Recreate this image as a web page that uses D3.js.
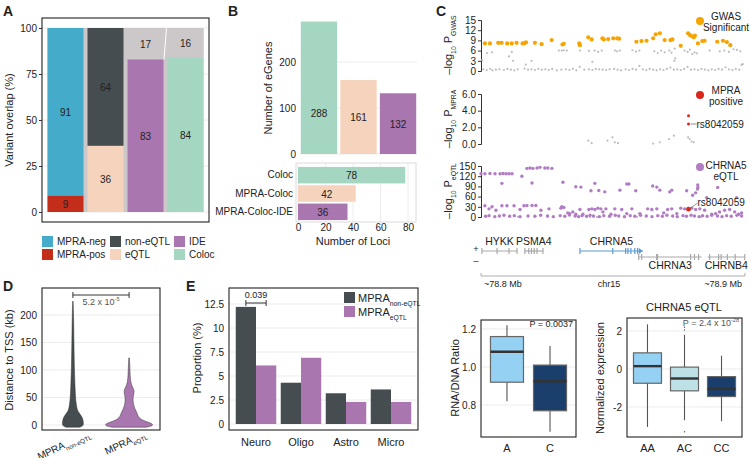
<!DOCTYPE html>
<html><head><meta charset="utf-8">
<script src="https://cdn.jsdelivr.net/npm/d3@7"></script>
<style>
body{margin:0;background:#fff}
text{font-family:"Liberation Sans",Arial,Helvetica,sans-serif;fill:#222}
</style></head>
<body><svg id="c" width="750" height="458"></svg>
<script>
// ---------------- DATA ----------------
// Panel A
const aCats = ["MPRA", "eQTL", "IDE", "Coloc"];
const aLower = [9, 36, 83, 84];
const aUpper = [91, 64, 17, 16];
const aLowerKey = ["MPRA-pos", "eQTL", "IDE", "Coloc"];
const aUpperKey = ["MPRA-neg", "non-eQTL", "other", "other"];
const aTicks = [0, 25, 50, 75, 100];
const aLegend = [["MPRA-neg", "MPRA-pos"], ["non-eQTL", "eQTL"], ["IDE", "Coloc"]];
// Panel B
const bCats = ["Coloc", "MPRA-Coloc", "MPRA-Coloc-IDE"];
const bGenes = [288, 161, 132];
const bLoci = [78, 42, 36];
const bGeneTicks = [0, 100, 200];
const bLociTicks = [0, 20, 40, 60, 80];
// Panel C  (positions: kb offset from chr15:78,790 kb)
const gwasSig = [[5.7,8.1],[7.9,8.1],[11.5,8.3],[13.0,8.3],[15.4,8.1],[17.4,8.1],[19.5,8.3],[22.1,8.1],[22.8,8.1],[23.6,8.4],[27.5,8.3],[30.4,7.9],[34.8,9.1],[39.5,7.8],[40.1,8.0],[46.8,8.1],[47.1,7.6],[50.7,9.9],[52.2,9.3],[56.9,9.6],[57.5,9.3],[59.4,9.4],[61.6,9.6],[63.3,9.6],[64.2,9.5],[71.7,8.6],[73.9,8.8],[76.1,8.9],[79.0,9.6],[80.1,10.8],[81.9,11.1],[84.0,9.1],[86.5,9.1],[87.4,9.3],[91.0,7.4],[94.2,11.1],[94.9,10.6],[95.7,10.3],[96.7,9.9],[97.2,10.4],[98.5,8.1],[100.4,8.8],[101.4,8.9],[106.9,8.6],[109.4,8.9],[111.1,8.5],[112.6,7.6]];
const gwasLow = [[5,0.5],[6.5,0.3],[8,0.6],[9,0.2],[10.5,0.4],[12,0.5],[14,0.3],[15.5,0.6],[17,0.4],[18.5,0.2],[20,0.5],[23,0.7],[24.5,0.4],[26,0.5],[27.5,0.3],[29,0.6],[30.5,0.4],[32,0.5],[33.5,0.3],[35,0.6],[37,0.2],[39,0.4],[41,0.5],[42.5,0.3],[44,0.6],[45.5,0.2],[47,1.2],[49,0.4],[51,0.5],[52.5,0.3],[54,0.6],[55.5,0.5],[57,0.4],[58.5,0.3],[60,0.5],[62,0.6],[63.5,0.4],[65,0.2],[67,0.5],[68.5,0.3],[70,0.6],[71.5,0.4],[73,1.5],[74.5,0.5],[76,0.3],[77.5,0.6],[79,0.4],[80.5,0.2],[82,0.5],[83.5,0.3],[85,0.6],[86.5,1.0],[88,0.4],[89.5,0.5],[91,0.3],[92.5,0.6],[94,1.2],[95.5,0.4],[97,0.5],[98.5,0.3],[100,0.6],[101.5,0.4],[103,0.2],[104.5,0.5],[106,0.3],[107.5,0.6],[109,0.4],[110.5,1.1],[112,0.5],[113.5,0.3],[115,0.6],[116.5,0.4],[118,2.0],
 [4.5,3.2],[6.6,5.3],[8.8,5.5],[16.2,4.3],[17.4,5.6],[18.0,3.0],[23.5,1.9],[26,3.0],[37.9,6.0],[39.2,6.0],[40.1,6.1],[41.4,6.0],[47.1,6.0],[51,5.9],[52.5,2.7],[53.5,6.0],[55,5.6],[56.6,6.0],[62.3,6.0],[63.3,5.8],[64.5,6.0],[70,6.1],[71.5,5.7],[73,6.0],[79.5,5.8],[81,5.3],[82.5,6.0],[84,5.5],[86,6.0],[87,5.4],[88.4,6.6],[88.6,3.7],[88.2,3.0],[92.7,6.0],[94,5.6],[95,6.3],[96,5.0],[97,5.5],[98,5.2],[103.6,6.0],[108,5.8],[110,6.0],[112,5.6],[114,6.4],[115.5,6.2],[117,5.8],[117.5,1.8]];
const mpraGrey = [[50.7,0.4],[52.2,0.1],[59.1,0.4],[61.3,0.8],[62.3,0.2],[63.7,0.1],[79.0,0.05],[81.9,0.2],[85.9,0.6],[88.0,1.0],[94.2,0.8],[94.9,0.6],[95.7,0.3],[96.7,0.2]];
const mpraPos = [[94.4,3.4],[94.4,2.4]];
const snpPos = 94.4, snpMpra = 2.4, snpEqtl = 23;
const eqtlPts = [[4.0,127],[5.7,127],[7.9,128],[10.1,127],[12.3,127],[13.6,128],[14.9,127],[16.2,127],[17.5,127],[13.1,99],[21.8,120],[24.0,143],[25.3,144],[26.6,143],[28.4,144],[29.7,146],[31.8,144],[33.1,144],[34.9,143],[26.2,100],[39.7,102],[45.3,89],[47.5,88],[51.9,77],[53.6,99],[55.3,78],[57.9,74],[64.5,79],[67.5,97],[68.4,97],[71.4,77],[78.8,91],[80.6,88],[81.9,79],[86.2,74],[87.1,79],[93.6,77],[96.2,64],[97.5,71],[98.4,94],[98.5,87],[98.3,82],[102.3,57],[107.1,87],[115.4,57],
 [5.7,33],[7.5,24],[8.8,30],[10.5,20],[13.1,33],[15.3,33],[18.4,33],[21.0,22],[22.7,33],[24.0,34],[26.2,34],[27.9,34],[30.1,20],[33.6,24],[38.8,26],[39.2,30],[40.1,28],[41.8,12],[42.7,10],[44.0,15],[45.3,8],[47.1,22],[48.4,8],[51.0,22],[52.3,24],[53.6,22],[54.9,26],[56.2,24],[57.1,15],[58.4,24],[60.6,8],[62.3,24],[65.3,22],[67.5,10],[69.7,24],[73.2,10],[76.6,24],[78.4,22],[80.6,24],[83.6,12],[85.3,22],[87.1,24],[89.3,10],[91.0,26],[92.7,24],[95.8,26],[97.5,22],[99.3,24],[101.4,20],[104.5,8],[106.2,10],[107.9,15],[110.1,20],[112.3,22],[114.5,15],[116.2,8],[117.5,12],
 [6,2],[7.5,4],[10,1],[12,3],[14,5],[16.5,2],[18.5,4],[21,1],[24.5,3],[27.5,2],[30,5],[33,3],[35.5,1],[38.5,4],[40.5,2],[42.5,6],[45,3],[46.5,1],[48,4],[50,2],[51.5,5],[53,3],[55.5,1],[57.5,4],[60,2],[62.5,5],[64,3],[66.5,1],[69,4],[71,2],[73.5,5],[76,3],[78.5,1],[81,4],[83,2],[85,5],[87.5,3],[89.5,1],[92,4],[93.5,2],[95.5,5],[97,3],[99,1],[100.5,4],[102.5,2],[104.5,5],[107,3],[109,1],[111,4],[113,2],[115.5,5],[117.5,3]];
const eqtlGrey = [[50,0.5],[51.5,0.3],[53,0.5],[54.5,0.3],[56,0.5],[20,0.4],[33,0.5],[72,0.4],[100,0.5]];
const gwasTicks = [0,3,6,9,12,15], mpraTicks = [0,2,4,6], eqtlTicks = [0,30,60,90,120,150];
const genes = [
 {name:"HYKK", s:4.4, e:19.7, row:0, ex:[4.4,11.0,16.2,19.7], hl:false},
 {name:"PSMA4", s:23.1, e:31.0, row:0, ex:[23.1,24.8,26.0,27.2,28.4,31.0], hl:false},
 {name:"CHRNA5", s:47.1, e:74.5, row:0, ex:[47.1,61.4,67.0,68.0,69.3,71.0,72.2], hl:true},
 {name:"CHRNA3", s:72.7, e:100.1, row:1, ex:[72.7,74.0,80.5,80.9,95.3,97.0,98.8], hl:false},
 {name:"CHRNB4", s:102.7, e:119.0, row:1, ex:[103.6,107.5,108.6,111.3,114.7,118.9], hl:false}];
const ratioBox = [{g:"A", min:0.82, q1:0.92, med:1.08, q3:1.16, max:1.22, out:[]},
                  {g:"C", min:0.66, q1:0.77, med:0.925, q3:1.01, max:1.11, out:[]}];
const exprBox = [{g:"AA", min:-3.05, q1:-0.75, med:0.15, q3:0.85, max:2.35, out:[]},
                 {g:"AC", min:-2.7, q1:-1.15, med:-0.5, q3:0.1, max:1.8, out:[2.05,2.2,-3.3]},
                 {g:"CC", min:-2.75, q1:-1.45, med:-1.05, q3:-0.4, max:0.7, out:[]}];
const ratioTicks = [0.8, 1.0, 1.2], exprTicks = [-2, 0, 2];
// Panel D  (violin: [distance kb, relative density width])
const dCats = ["non-eQTL", "eQTL"];
const violinNon = [[-4,7],[-2,9.5],[0,10.5],[5,10.5],[10,10],[15,9],[20,7],[25,5],[30,4],[40,3.2],[50,2.6],[75,2],[100,1.5],[150,1],[200,0.7],[225,0.2]];
const violinEq = [[-4,17],[-2,23],[1,24],[4,21],[7,16],[10,12],[15,9],[22,8],[30,5.5],[40,4],[50,3.8],[58,5],[64,5],[70,3],[78,1.6],[90,1],[105,0.8],[122,0.3]];
const dTicks = [0, 50, 100, 150, 200];
// Panel E
const eCats = ["Neuro", "Oligo", "Astro", "Micro"];
const eNon = [12.2, 4.3, 3.2, 3.6];
const eEq = [6.1, 6.9, 2.3, 2.3];
const eTicks = [0, 2.5, 5, 7.5, 10, 12.5];
const eTickLabels = ["0", "2.5", "5", "7.5", "10", "12.5"];

// ---------------- STYLE ----------------
const COL = {"MPRA-neg":"#45abca","MPRA-pos":"#c42d1a","non-eQTL":"#454d50","eQTL":"#f6d3bd",
  "IDE":"#a976b0","Coloc":"#a5d6c1","other":"#ccc8ca"};
const ORANGE = "#f6a400", PURPLE = "#b27cc4", RED = "#d8281c", GREY = "#bdbdbd", GRID = "#ececec";
const svg = d3.select("#c");

function rich(g, x, y, parts, size, anchor, extra) {
  const t = g.append("text").attr("x", x).attr("y", y).attr("font-size", size)
    .attr("text-anchor", anchor || "start");
  let shift = 0;
  parts.forEach(([s, mode]) => {
    const ts = t.append("tspan").text(s);
    let target = 0, fs = size;
    if (mode === "sub") { target = size * 0.32; fs = size * 0.62; }
    if (mode === "sup") { target = -size * 0.4; fs = size * 0.62; }
    ts.attr("dy", target - shift).attr("font-size", fs);
    shift = target;
  });
  if (extra) extra(t);
  return t;
}
function label(g, x, y, s, size, anchor, fill) {
  return g.append("text").attr("x", x).attr("y", y).attr("font-size", size)
    .attr("text-anchor", anchor || "start").attr("fill", fill || "#222").text(s);
}
function styleAxis(a, size) {
  a.selectAll("text").attr("font-size", size || 10).attr("fill", "#333");
  a.selectAll("line").attr("stroke", "#333");
  a.selectAll("path").attr("stroke", "#333");
}
function frame(g, x0, y0, x1, y1) {
  g.append("rect").attr("x", x0).attr("y", y0).attr("width", x1 - x0).attr("height", y1 - y0)
    .attr("fill", "none").attr("stroke", "#222").attr("stroke-width", 1.1);
}
function panelLabel(x, y, s) {
  svg.append("text").attr("x", x).attr("y", y).attr("font-size", 14).attr("font-weight", "bold").text(s);
}

// ---------------- PANEL A ----------------
{
  const g = svg.append("g");
  const x = d3.scaleBand().domain(aCats).range([42, 209]).paddingInner(0.1).paddingOuter(0.1375);
  const y = d3.scaleLinear().domain([0, 100]).range([212, 28]);
  aTicks.forEach(t => g.append("line").attr("x1", 42).attr("x2", 209).attr("y1", y(t)).attr("y2", y(t)).attr("stroke", GRID));
  g.append("rect").attr("x", x(aCats[0])).attr("y", y(100)).attr("width", x(aCats[3]) + x.bandwidth() - x(aCats[0]))
    .attr("height", y(0) - y(100)).attr("fill", COL.other);
  aCats.forEach((c, i) => {
    g.append("rect").attr("x", x(c)).attr("width", x.bandwidth()).attr("y", y(aLower[i])).attr("height", y(0) - y(aLower[i])).attr("fill", COL[aLowerKey[i]]);
    g.append("rect").attr("x", x(c)).attr("width", x.bandwidth()).attr("y", y(100)).attr("height", y(aLower[i]) - y(100)).attr("fill", COL[aUpperKey[i]]);
    label(g, x(c) + x.bandwidth() / 2, y(aLower[i] / 2) + 4, aLower[i], 10, "middle", "#111");
    label(g, x(c) + x.bandwidth() / 2, y(aLower[i] + aUpper[i] / 2) + 4, aUpper[i], 10, "middle");
  });
  const gx = x(aCats[2]) + x.bandwidth();
  g.append("line").attr("x1", gx + 3).attr("y1", y(100)).attr("x2", gx + 0.5).attr("y2", y(aLower[2]))
    .attr("stroke", "#fff").attr("stroke-width", 1);
  frame(g, 42, 18, 209, 222);
  const ax = g.append("g").attr("transform", "translate(42,0)").call(d3.axisLeft(y).tickValues(aTicks).tickSize(3).tickPadding(2));
  ax.select(".domain").remove(); styleAxis(ax, 10);
  label(g, 0, 0, "Variant overlap (%)", 11, "middle").attr("transform", "translate(13,120) rotate(-90)");
  const lx = [42, 110, 174];
  aLegend.forEach((col, ci) => col.forEach((k, ri) => {
    g.append("rect").attr("x", lx[ci]).attr("y", 236 + ri * 13).attr("width", 11).attr("height", 11).attr("fill", COL[k]);
    label(g, lx[ci] + 15, 245 + ri * 13, k, 10, "start");
  }));
}
panelLabel(3, 16, "A");

// ---------------- PANEL B ----------------
{
  const g = svg.append("g");
  const x = d3.scaleBand().domain(bCats).range([300, 417]).paddingInner(0.08).paddingOuter(0.02);
  const y = d3.scaleLinear().domain([0, 300]).range([154, 16]);
  bGeneTicks.forEach(t => g.append("line").attr("x1", 300).attr("x2", 417).attr("y1", y(t)).attr("y2", y(t)).attr("stroke", GRID));
  bCats.forEach((c, i) => {
    g.append("rect").attr("x", x(c)).attr("width", x.bandwidth()).attr("y", y(bGenes[i])).attr("height", y(0) - y(bGenes[i])).attr("fill", [COL.Coloc, COL.eQTL, COL.IDE][i]);
    label(g, x(c) + x.bandwidth() / 2, y(Math.min(bGenes[i] / 2, 90)) + 4, bGenes[i], 10, "middle");
  });
  const ay = g.append("g").attr("transform", "translate(300,0)").call(d3.axisLeft(y).tickValues(bGeneTicks).tickSize(0).tickPadding(4));
  ay.select(".domain").remove(); styleAxis(ay, 10);
  label(g, 0, 0, "Number of eGenes", 11, "middle").attr("transform", "translate(272,88) rotate(-90)");
  const yb = d3.scaleBand().domain(bCats).range([166, 221]).paddingInner(0.1).paddingOuter(0.05);
  const xb = d3.scaleLinear().domain([0, 80]).range([298, 408]);
  bLociTicks.forEach(t => g.append("line").attr("x1", xb(t)).attr("x2", xb(t)).attr("y1", 163).attr("y2", 222).attr("stroke", GRID));
  g.append("rect").attr("x", 296).attr("y", 163).attr("width", 120).attr("height", 59).attr("fill", "none").attr("stroke", "#dcdcdc");
  bCats.forEach((c, i) => {
    g.append("rect").attr("x", xb(0)).attr("y", yb(c)).attr("height", yb.bandwidth()).attr("width", xb(bLoci[i]) - xb(0)).attr("fill", [COL.Coloc, COL.eQTL, COL.IDE][i]);
    label(g, (xb(0) + xb(bLoci[i])) / 2, yb(c) + yb.bandwidth() / 2 + 4, bLoci[i], 10, "middle");
  });
  const ayb = g.append("g").attr("transform", "translate(296,0)").call(d3.axisLeft(yb).tickSize(0).tickPadding(3));
  ayb.select(".domain").remove(); styleAxis(ayb, 10);
  const axb = g.append("g").attr("transform", "translate(0,222)").call(d3.axisBottom(xb).tickValues(bLociTicks).tickSize(0).tickPadding(2));
  axb.select(".domain").remove(); styleAxis(axb, 10);
  label(g, 353, 245, "Number of Loci", 11, "middle");
}
panelLabel(228, 16, "B");

// ---------------- PANEL C ----------------
{
  const g = svg.append("g");
  const x = d3.scaleLinear().domain([4, 119]).range([481, 745]);
  const yG = d3.scaleLinear().domain([0, 15]).range([71, 20]);
  const yM = d3.scaleLinear().domain([0, 6]).range([144, 94]);
  const yE = d3.scaleLinear().domain([0, 150]).range([217, 166]);
  function trackAxis(y, ticks, lab, cy) {
    const a = g.append("g").attr("transform", "translate(481,0)").call(d3.axisLeft(y).tickValues(ticks).tickSize(3).tickPadding(2));
    styleAxis(a, 10);
    rich(g, 0, 0, [["\u2013log", ""], ["10", "sub"], [" P", ""], [lab, "sub"]], 11, "middle",
      t => t.attr("transform", `translate(452,${cy}) rotate(-90)`));
  }
  trackAxis(yG, gwasTicks, "GWAS", 45);
  trackAxis(yM, mpraTicks, "MPRA", 119);
  trackAxis(yE, eqtlTicks, "eQTL", 191);
  g.selectAll(".gl").data(gwasLow).join("circle").attr("cx", d => x(d[0])).attr("cy", d => yG(d[1])).attr("r", 1.1).attr("fill", GREY);
  g.selectAll(".gs").data(gwasSig).join("circle").attr("cx", d => x(d[0])).attr("cy", d => yG(d[1])).attr("r", 2.1).attr("fill", ORANGE);
  g.selectAll(".mg").data(mpraGrey).join("circle").attr("cx", d => x(d[0])).attr("cy", d => yM(d[1])).attr("r", 1.1).attr("fill", GREY);
  g.selectAll(".mp").data(mpraPos).join("circle").attr("cx", d => x(d[0])).attr("cy", d => yM(d[1])).attr("r", 1.5).attr("fill", RED);
  g.selectAll(".eg").data(eqtlGrey).join("circle").attr("cx", d => x(d[0])).attr("cy", d => yE(d[1])).attr("r", 1.1).attr("fill", GREY);
  g.selectAll(".ep").data(eqtlPts).join("circle").attr("cx", d => x(d[0])).attr("cy", d => yE(d[1])).attr("r", 1.7).attr("fill", PURPLE);
  g.append("circle").attr("cx", x(snpPos)).attr("cy", yE(snpEqtl)).attr("r", 2.4).attr("fill", RED);
  g.append("line").attr("x1", x(snpPos) + 2).attr("x2", x(snpPos) + 8).attr("y1", yM(snpMpra)).attr("y2", yM(snpMpra)).attr("stroke", "#777").attr("stroke-width", 0.8);
  label(g, x(snpPos) + 8, yM(snpMpra) + 3.5, "rs8042059", 10, "start", "#666");
  g.append("line").attr("x1", x(snpPos) + 2).attr("x2", x(snpPos) + 9).attr("y1", yE(snpEqtl) - 1).attr("y2", yE(snpEqtl) - 6).attr("stroke", "#777").attr("stroke-width", 0.8);
  label(g, x(snpPos) + 9, yE(snpEqtl) - 3, "rs8042059", 10, "start", "#666");
  [[21, ORANGE, ["GWAS", "Significant"], 20], [95, RED, ["MPRA", "positive"], 94], [167, PURPLE, ["CHRNA5", "eQTL"], 169]].forEach(([cy, c, txts, by]) => {
    g.append("circle").attr("cx", 700).attr("cy", cy).attr("r", 4).attr("fill", c);
    txts.forEach((t, i) => label(g, 726, by + i * 11, t, 10, "middle"));
  });
  // gene track
  const rowY = [251, 257];
  label(g, 476, 252, "+", 9, "middle", "#999");
  label(g, 476, 264, "\u2013", 9, "middle", "#999");
  genes.forEach(gn => {
    const c = gn.hl ? "#5b9bd5" : "#a9a9a9";
    const yy = rowY[gn.row];
    g.append("line").attr("x1", x(gn.s)).attr("x2", x(gn.e)).attr("y1", yy).attr("y2", yy).attr("stroke", c).attr("stroke-width", 1.2);
    gn.ex.forEach(e => g.append("line").attr("x1", x(e)).attr("x2", x(e)).attr("y1", yy - 3).attr("y2", yy + 3).attr("stroke", c).attr("stroke-width", 1.2));
    if (gn.hl) g.append("path").attr("d", `M${x(gn.e) - 4},${yy - 3}L${x(gn.e)},${yy}L${x(gn.e) - 4},${yy + 3}Z`).attr("fill", c);
    const lx = (x(gn.s) + x(gn.e)) / 2;
    label(g, lx, gn.row === 0 ? yy - 6 : yy + 12, gn.name, 10.5, "middle", c);
  });
  g.append("line").attr("x1", 481).attr("x2", 745).attr("y1", 276).attr("y2", 276).attr("stroke", "#999").attr("stroke-width", 0.8);
  [481, 745].forEach(v => g.append("line").attr("x1", v).attr("x2", v).attr("y1", 273).attr("y2", 276).attr("stroke", "#999").attr("stroke-width", 0.8));
  label(g, 484, 287, "~78.8 Mb", 9, "start", "#333");
  label(g, 609, 287, "chr15", 9, "middle", "#333");
  label(g, 742, 287, "~78.9 Mb", 9, "end", "#333");
}
panelLabel(436, 16, "C");

// ---------------- BOXPLOTS ----------------
function boxplot(data, cats, x0, x1, y0, y1, domain, ticks, fills, pInner, pOuter) {
  const g = svg.append("g");
  const x = d3.scaleBand().domain(cats).range([x0, x1]).paddingInner(pInner).paddingOuter(pOuter);
  const y = d3.scaleLinear().domain(domain).range([y1, y0]);
  ticks.forEach(t => g.append("line").attr("x1", x0).attr("x2", x1).attr("y1", y(t)).attr("y2", y(t)).attr("stroke", GRID));
  data.forEach((d, i) => {
    const cx = x(d.g) + x.bandwidth() / 2;
    g.append("line").attr("x1", cx).attr("x2", cx).attr("y1", y(d.min)).attr("y2", y(d.q1)).attr("stroke", "#555").attr("stroke-width", 1.1);
    g.append("line").attr("x1", cx).attr("x2", cx).attr("y1", y(d.q3)).attr("y2", y(d.max)).attr("stroke", "#555").attr("stroke-width", 1.1);
    g.append("rect").attr("x", x(d.g)).attr("width", x.bandwidth()).attr("y", y(d.q3)).attr("height", y(d.q1) - y(d.q3))
      .attr("fill", fills[i]).attr("stroke", "#666").attr("stroke-width", 1.2);
    g.append("line").attr("x1", x(d.g)).attr("x2", x(d.g) + x.bandwidth()).attr("y1", y(d.med)).attr("y2", y(d.med)).attr("stroke", "#333").attr("stroke-width", 2.4);
    d.out.forEach(o => g.append("circle").attr("cx", cx).attr("cy", y(o)).attr("r", 0.7).attr("fill", "#555"));
  });
  frame(g, x0, y0, x1, y1);
  const ay = g.append("g").attr("transform", `translate(${x0},0)`).call(d3.axisLeft(y).tickValues(ticks).tickSize(0).tickPadding(5).tickFormat(d3.format(".1~f")));
  ay.select(".domain").remove(); styleAxis(ay, 10);
  const ax = g.append("g").attr("transform", `translate(0,${y1})`).call(d3.axisBottom(x).tickSize(0).tickPadding(7));
  ax.select(".domain").remove(); styleAxis(ax, 11);
  return g;
}
{
  const g1 = boxplot(ratioBox, ratioBox.map(d => d.g), 481, 576, 320, 437, [0.632, 1.247], ratioTicks, ["#95d1f3", "#1b3f6c"], 0.233, 0.22);
  g1.selectAll(".tick text").filter(function () { return this.textContent === "1"; }).text("1.0");
  label(g1, 573, 327, "P = 0.0037", 9, "end", "#555");
  label(g1, 0, 0, "RNA/DNA Ratio", 11, "middle").attr("transform", "translate(459,378) rotate(-90)");
  const g2 = boxplot(exprBox, exprBox.map(d => d.g), 627, 742, 318, 437, [-3.579, 2.684], exprTicks, ["#95d1f3", "#bde1e4", "#1b3f6c"], 0.243, 0.175);
  g2.selectAll(".tick text").each(function () { this.textContent = this.textContent.replace("\u2212", "-"); });
  rich(g2, 739, 326, [["P = 2.4 x 10", ""], ["-28", "sup"]], 9, "end", t => t.selectAll("tspan").attr("fill", "#555"));
  label(g2, 684, 311, "CHRNA5 eQTL", 11, "middle");
  label(g2, 0, 0, "Normalized expression", 11, "middle").attr("transform", "translate(604,378) rotate(-90)");
}

// ---------------- PANEL D ----------------
{
  const g = svg.append("g");
  const x = d3.scalePoint().domain(dCats).range([42, 160]).padding(0.55);
  const y = d3.scaleLinear().domain([0, 200]).range([425, 315]);
  dTicks.forEach(t => g.append("line").attr("x1", 42).attr("x2", 160).attr("y1", y(t)).attr("y2", y(t)).attr("stroke", GRID));
  const w = d3.scaleLinear().domain([0, 24]).range([0, 24]);
  [[violinNon, COL["non-eQTL"], dCats[0]], [violinEq, COL.IDE, dCats[1]]].forEach(([dens, c, cat]) => {
    const cx = x(cat);
    const area = d3.area().curve(d3.curveBasis).y(d => y(d[0])).x0(d => cx - w(d[1])).x1(d => cx + w(d[1]));
    g.append("path").attr("d", area(dens)).attr("fill", c).attr("stroke", "#333").attr("stroke-width", 0.5);
  });
  frame(g, 42, 288, 160, 430);
  const ay = g.append("g").attr("transform", "translate(42,0)").call(d3.axisLeft(y).tickValues(dTicks).tickSize(0).tickPadding(5));
  ay.select(".domain").remove(); styleAxis(ay, 10);
  label(g, 0, 0, "Distance to TSS (kb)", 11, "middle").attr("transform", "translate(13,360) rotate(-90)");
  const x1 = x(dCats[0]), x2 = x(dCats[1]);
  g.append("path").attr("d", `M${x1},292V298M${x1},295H${x2}M${x2},292V298`).attr("stroke", "#333").attr("fill", "none");
  rich(g, (x1 + x2) / 2, 305, [["5.2 x 10", ""], ["-5", "sup"]], 9, "middle", t => t.selectAll("tspan").attr("fill", "#555"));
  dCats.forEach(c => rich(g, 0, 0, [["MPRA", ""], [c, "sub"]], 10, "end",
    t => t.attr("transform", `translate(${x(c) + 18},436) rotate(-25)`)));
}
panelLabel(3, 291, "D");

// ---------------- PANEL E ----------------
{
  const g = svg.append("g");
  const x = d3.scaleBand().domain(eCats).range([229, 418]).paddingInner(0.1).paddingOuter(0.15);
  const xs = d3.scaleBand().domain(["non", "eq"]).range([0, x.bandwidth()]);
  const y = d3.scaleLinear().domain([0, 12.5]).range([424, 304]);
  eTicks.forEach(t => g.append("line").attr("x1", 229).attr("x2", 418).attr("y1", y(t)).attr("y2", y(t)).attr("stroke", GRID));
  eCats.forEach((c, i) => {
    g.append("rect").attr("x", x(c) + xs("non")).attr("width", xs.bandwidth()).attr("y", y(eNon[i])).attr("height", y(0) - y(eNon[i])).attr("fill", COL["non-eQTL"]);
    g.append("rect").attr("x", x(c) + xs("eq")).attr("width", xs.bandwidth()).attr("y", y(eEq[i])).attr("height", y(0) - y(eEq[i])).attr("fill", COL.IDE);
  });
  frame(g, 229, 288, 418, 430);
  const ay = g.append("g").attr("transform", "translate(229,0)").call(d3.axisLeft(y).tickValues(eTicks).tickSize(0).tickPadding(5).tickFormat((d, i) => eTickLabels[i]));
  ay.select(".domain").remove(); styleAxis(ay, 10);
  const ax = g.append("g").attr("transform", "translate(0,430)").call(d3.axisBottom(x).tickSize(0).tickPadding(8));
  ax.select(".domain").remove(); styleAxis(ax, 11);
  label(g, 0, 0, "Proportion (%)", 11, "middle").attr("transform", "translate(201,358) rotate(-90)");
  const s1 = x(eCats[0]) + xs("non") + xs.bandwidth() / 2, s2 = x(eCats[0]) + xs("eq") + xs.bandwidth() / 2;
  g.append("path").attr("d", `M${s1},300V306M${s1},303H${s2}M${s2},300V306`).attr("stroke", "#333").attr("fill", "none");
  label(g, (s1 + s2) / 2, 298, "0.039", 9, "middle", "#555");
  [["non-eQTL", COL["non-eQTL"]], ["eQTL", COL.IDE]].forEach(([k, c], i) => {
    g.append("rect").attr("x", 344).attr("y", 292 + i * 14).attr("width", 11).attr("height", 11).attr("fill", c);
    rich(g, 358, 302 + i * 14, [["MPRA", ""], [k, "sub"]], 11, "start");
  });
}
panelLabel(186, 291, "E");
</script></body></html>
